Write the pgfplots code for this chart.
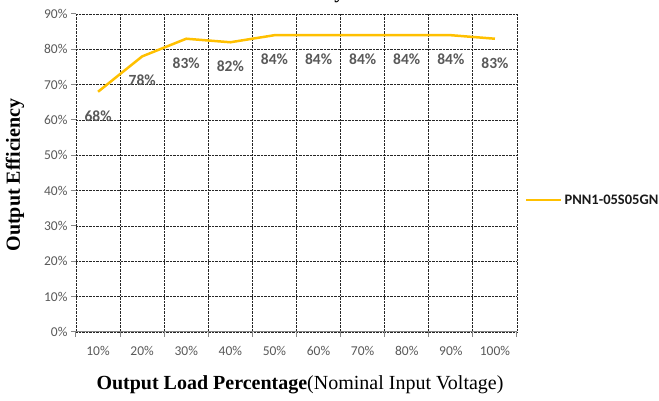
\documentclass[border=0pt]{standalone}
\usepackage{pgfplots}
\pgfplotsset{compat=1.18}
\usepackage{fontspec}
\setmainfont{Liberation Serif}
\newfontfamily\calibri{Carlito}
\definecolor{gold}{HTML}{FFC000}
\definecolor{txtgray}{HTML}{595959}
\definecolor{axgray}{HTML}{868686}

\begin{document}
\begin{tikzpicture}[x=1pt,y=1pt]
\useasboundingbox (0,0) rectangle (659,401);
\begin{axis}[
  at={(76pt,69pt)}, anchor=south west,
  width=441pt, height=318pt, scale only axis,
  xmin=-0.5, xmax=9.5, ymin=0, ymax=90,
  xtick={-0.5,0.5,...,9.5},
  x tick label as interval,
  xticklabels={10\%,20\%,30\%,40\%,50\%,60\%,70\%,80\%,90\%,100\%},
  ytick={0,10,...,90},
  yticklabels={0\%,10\%,20\%,30\%,40\%,50\%,60\%,70\%,80\%,90\%},
  grid=major,
  grid style={densely dotted, black!85, line width=0.8pt},
  axis line style={draw=none},
  tick align=outside, tick pos=left, major tick length=5pt,
  tick style={axgray, line width=1pt},
  ticklabel style={font=\calibri\fontsize{13.5}{13.5}\selectfont, text=txtgray},
  xticklabel style={yshift=-6pt},
  clip=false,
  legend style={at={(1.018,0.415)}, anchor=west, draw=none, fill=none,
    font=\calibri\bfseries\fontsize{14.5}{14.5}\selectfont, text=black!90,
    inner sep=0pt},
  legend image code/.code={\draw[#1] (0pt,0pt) -- (35pt,0pt);},
  nodes near coords={\pgfmathprintnumber[assume math mode=true]{\pgfplotspointmeta}\%},
  every node near coord/.append style={anchor=center, yshift=-24pt,
    font=\calibri\bfseries\fontsize{15.5}{15.5}\selectfont, text=txtgray},
]
\addplot[color=gold, line width=2.5pt, no markers] coordinates {
  (0,68) (1,78) (2,83) (3,82) (4,84) (5,84) (6,84) (7,84) (8,84) (9,83)
};
\addlegendentry{PNN1-05S05GN}
\draw[axgray, line width=1pt] (rel axis cs:0,0) -- (rel axis cs:1,0);
\end{axis}
\node[rotate=90, font=\bfseries\fontsize{20}{20}\selectfont] at (15,226) {Output Efficiency};
\node[font=\fontsize{20}{20}\selectfont] at (300,16) {\textbf{Output Load Percentage}(Nominal Input Voltage)};
\node[anchor=base east, font=\bfseries\fontsize{20}{20}\selectfont] at (348,402) {Efficiency};
\end{tikzpicture}
\end{document}
